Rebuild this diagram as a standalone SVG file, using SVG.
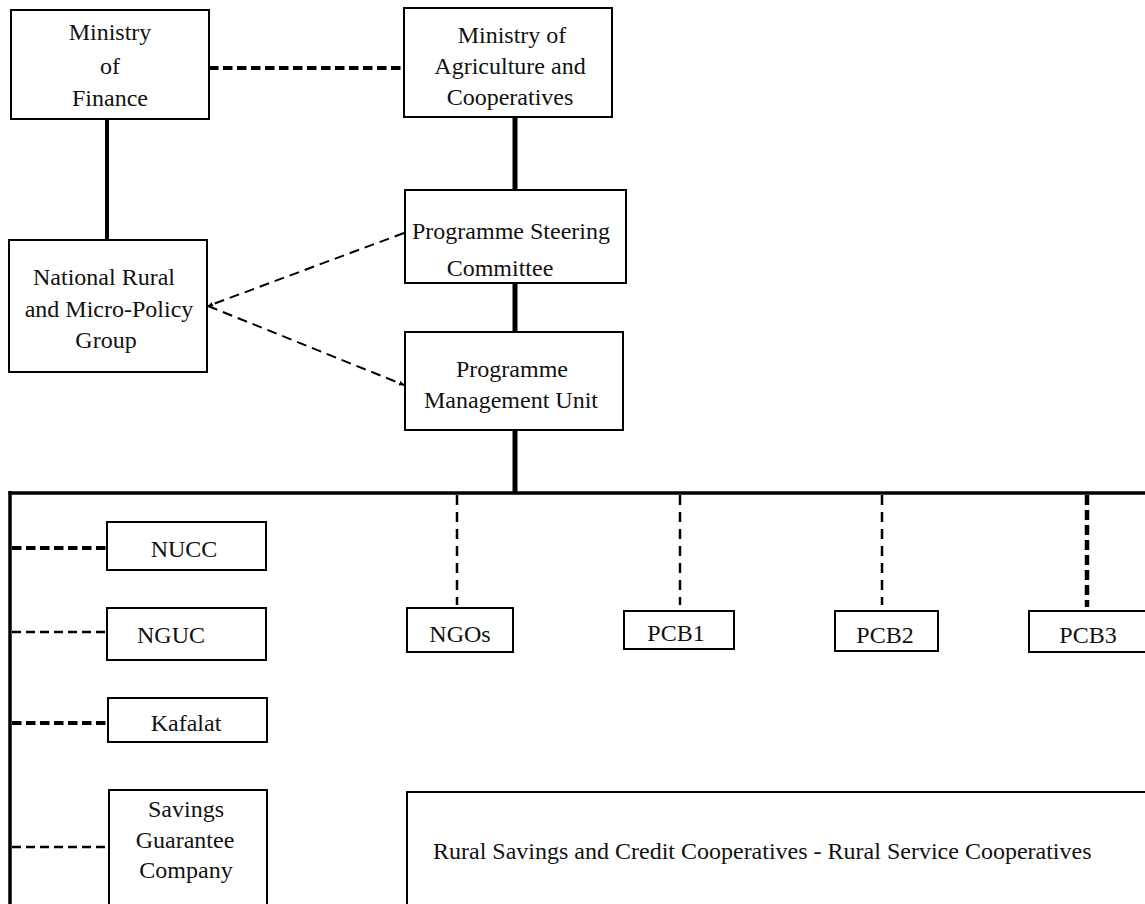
<svg xmlns="http://www.w3.org/2000/svg" width="1145" height="904" viewBox="0 0 1145 904">
<style>
.box{fill:#fff;stroke:#000;stroke-width:2}
.t{font-family:"Liberation Serif","Times New Roman",serif;font-size:24px;fill:#111;text-anchor:middle}
.ts{font-family:"Liberation Serif","Times New Roman",serif;font-size:24px;fill:#111;text-anchor:start}
.solid{stroke:#000;fill:none}
.dthick{stroke:#000;stroke-width:4;stroke-dasharray:9.5 4.5;fill:none}
.dthin{stroke:#000;stroke-width:2.5;stroke-dasharray:9 5;fill:none}
.dv{stroke:#000;stroke-width:2.5;stroke-dasharray:10 7;fill:none}
.dvthick{stroke:#000;stroke-width:4.5;stroke-dasharray:10 5;fill:none}
.ddiag{stroke:#000;stroke-width:2;stroke-dasharray:10 6;fill:none}
</style>
<defs>
<marker id="ah" markerWidth="6" markerHeight="6" refX="5" refY="3" orient="auto" markerUnits="userSpaceOnUse">
<path d="M0,0.5 L5,3 L0,5.5 Z" fill="#000"/>
</marker>
</defs>
<rect width="1145" height="904" fill="#fff"/>
<g id="connectors">
<line class="dthick" x1="209" y1="68" x2="404" y2="68"/>
<line class="solid" stroke-width="4" x1="107" y1="119" x2="107" y2="240"/>
<line class="solid" stroke-width="5" x1="515" y1="117" x2="515" y2="190"/>
<line class="solid" stroke-width="5" x1="515" y1="283" x2="515" y2="332"/>
<line class="solid" stroke-width="5" x1="515" y1="430" x2="515" y2="493"/>
<path class="ddiag" d="M404,233 L208,306" marker-end="url(#ah)"/>
<path class="ddiag" d="M208,306 L404,385" marker-end="url(#ah)"/>
<line class="solid" stroke-width="3.5" x1="8.5" y1="493" x2="1145" y2="493"/>
<line class="solid" stroke-width="3.5" x1="10" y1="491" x2="10" y2="904"/>
<line class="dthick" x1="12" y1="548" x2="107" y2="548"/>
<line class="dthin" x1="12" y1="632" x2="107" y2="632"/>
<line class="dthick" x1="12" y1="723" x2="108" y2="723"/>
<line class="dthin" x1="12" y1="847" x2="109" y2="847"/>
<line class="dv" x1="457" y1="495" x2="457" y2="605"/>
<line class="dv" x1="680" y1="495" x2="680" y2="605"/>
<line class="dv" x1="882" y1="495" x2="882" y2="605"/>
<line class="dvthick" x1="1087" y1="495" x2="1087" y2="607"/>
</g>
<g id="ministry-finance">
<rect class="box" x="11" y="10" width="198" height="109"/>
<text class="t" x="110" y="40">Ministry</text>
<text class="t" x="110" y="74">of</text>
<text class="t" x="110" y="106">Finance</text>
</g>
<g id="ministry-agriculture">
<rect class="box" x="404" y="8" width="208" height="109" stroke-width="3"/>
<text class="t" x="512" y="43">Ministry of</text>
<text class="t" x="510" y="74">Agriculture and</text>
<text class="t" x="510" y="105">Cooperatives</text>
</g>
<g id="nrmpg">
<rect class="box" x="9" y="240" width="198" height="132"/>
<text class="t" x="104" y="285">National Rural</text>
<text class="t" x="109" y="317">and Micro-Policy</text>
<text class="t" x="106" y="348">Group</text>
</g>
<g id="psc">
<rect class="box" x="405" y="190" width="221" height="93"/>
<text class="t" x="511" y="239">Programme Steering</text>
<text class="t" x="500" y="276">Committee</text>
</g>
<g id="pmu">
<rect class="box" x="405" y="332" width="218" height="98"/>
<text class="t" x="512" y="377">Programme</text>
<text class="t" x="511" y="408">Management Unit</text>
</g>
<g id="nucc">
<rect class="box" x="107" y="522" width="159" height="48"/>
<text class="t" x="184" y="557">NUCC</text>
</g>
<g id="nguc">
<rect class="box" x="107" y="608" width="159" height="52"/>
<text class="t" x="171" y="643">NGUC</text>
</g>
<g id="kafalat">
<rect class="box" x="108" y="698" width="159" height="44"/>
<text class="t" x="186" y="731">Kafalat</text>
</g>
<g id="sgc">
<rect class="box" x="109" y="790" width="158" height="120"/>
<text class="t" x="186" y="817">Savings</text>
<text class="t" x="185" y="848">Guarantee</text>
<text class="t" x="186" y="878">Company</text>
</g>
<g id="ngos">
<rect class="box" x="407" y="608" width="106" height="44"/>
<text class="t" x="460" y="642">NGOs</text>
</g>
<g id="pcb1">
<rect class="box" x="624" y="611" width="110" height="38"/>
<text class="t" x="676" y="641">PCB1</text>
</g>
<g id="pcb2">
<rect class="box" x="835" y="611" width="103" height="40"/>
<text class="t" x="885" y="643">PCB2</text>
</g>
<g id="pcb3">
<rect class="box" x="1029" y="611" width="120" height="41"/>
<text class="t" x="1088" y="643">PCB3</text>
</g>
<g id="rural">
<rect class="box" x="407" y="792" width="745" height="120"/>
<text class="ts" x="433" y="859">Rural Savings and Credit Cooperatives - Rural Service Cooperatives</text>
</g>
</svg>
